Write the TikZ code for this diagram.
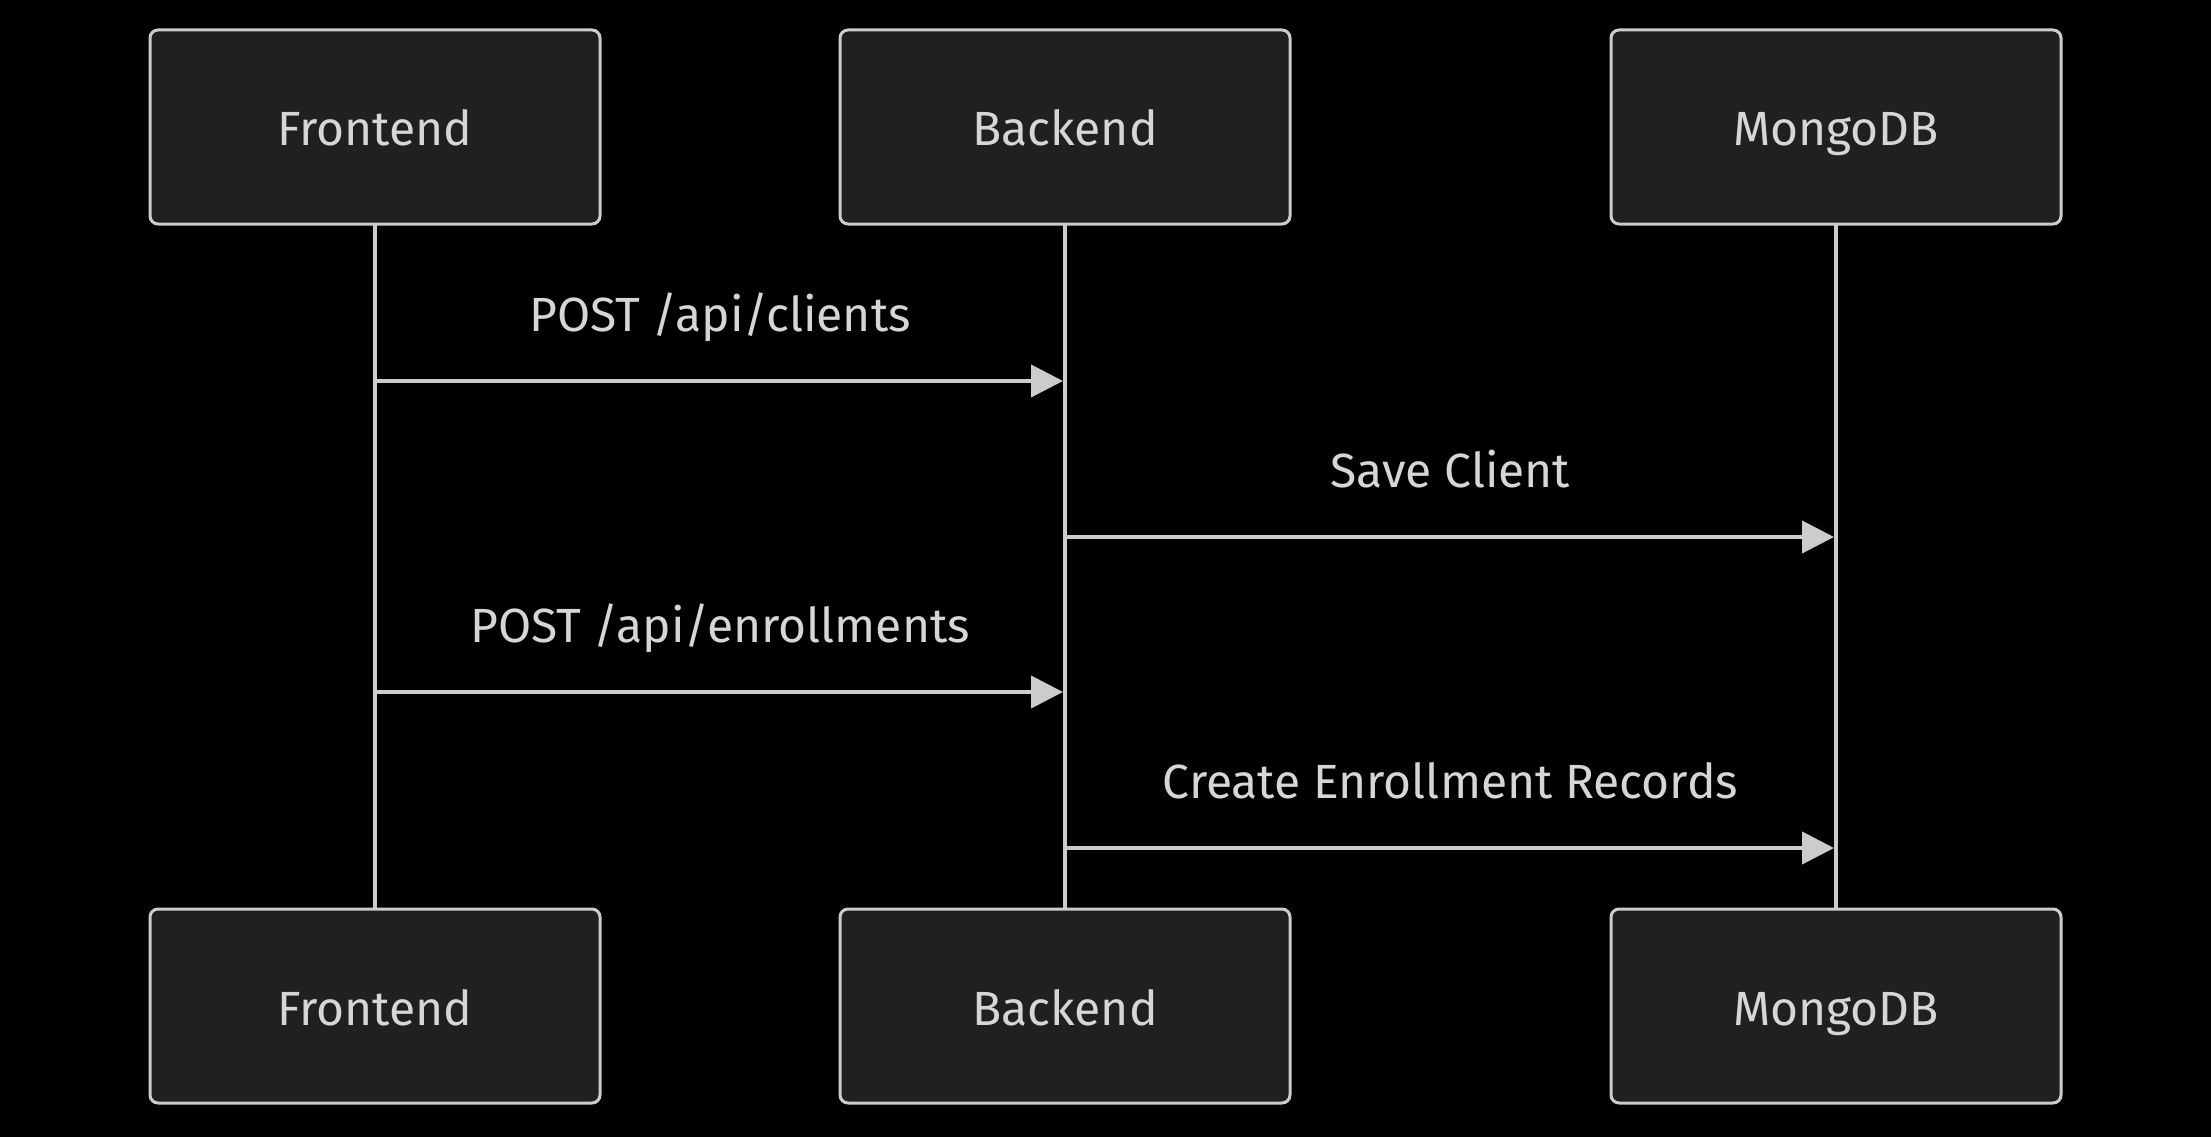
\documentclass[tikz,border=0pt]{standalone}
\usepackage{fontspec}
\setmainfont{Fira Sans}
\usetikzlibrary{arrows.meta,positioning}
\definecolor{actorfill}{HTML}{1F2020}
\definecolor{linegray}{HTML}{CCCCCC}
\definecolor{textgray}{HTML}{D6D6D6}
\begin{document}
\begin{tikzpicture}[x=1pt, y=-1pt,
        actor/.style={rectangle, draw=linegray, fill=actorfill, rounded corners=8pt, line width=3pt, minimum width=450pt, minimum height=194pt, text=textgray, text height=48pt, text depth=10pt, font=\fontsize{48}{56}\selectfont},
        lifeline/.style={draw=linegray, line width=4pt},
        msg/.style={-{Triangle[length=32pt, width=32pt]}, draw=linegray, fill=linegray, line width=4pt},
        msglabel/.style={text=textgray, text height=34pt, text depth=10pt, font=\fontsize{48}{56}\selectfont, midway, yshift=62pt}
    ]
        % Background
        \fill[black] (0,0) rectangle (2211,1137);

        % Lifelines
        \coordinate (fe_head) at (375,224);
        \coordinate (fe_foot) at (375,910);
        \coordinate (be_head) at (1065,224);
        \coordinate (be_foot) at (1065,910);
        \coordinate (db_head) at (1836,224);
        \coordinate (db_foot) at (1836,910);
        \draw[lifeline] (fe_head) -- (fe_foot);
        \draw[lifeline] (be_head) -- (be_foot);
        \draw[lifeline] (db_head) -- (db_foot);

        % Participants
        \node[actor] (fe_top) at (375,127) {Frontend};
        \node[actor] (be_top) at (1065,127) {Backend};
        \node[actor] (db_top) at (1836,127) {MongoDB};
        \node[actor] (fe_bot) at (375,1006) {Frontend};
        \node[actor] (be_bot) at (1065,1006) {Backend};
        \node[actor] (db_bot) at (1836,1006) {MongoDB};

        % Message anchors
        \coordinate (m1_from) at (377,381);
        \coordinate (m1_to) at (1063,381);
        \coordinate (m2_from) at (1067,537);
        \coordinate (m2_to) at (1834,537);
        \coordinate (m3_from) at (377,692);
        \coordinate (m3_to) at (1063,692);
        \coordinate (m4_from) at (1067,848);
        \coordinate (m4_to) at (1834,848);

        % Messages
        \draw[msg] (m1_from) -- node[msglabel] {POST /api/clients} (m1_to);
        \draw[msg] (m2_from) -- node[msglabel] {Save Client} (m2_to);
        \draw[msg] (m3_from) -- node[msglabel] {POST /api/enrollments} (m3_to);
        \draw[msg] (m4_from) -- node[msglabel] {Create Enrollment Records} (m4_to);
    \end{tikzpicture}
\end{document}
